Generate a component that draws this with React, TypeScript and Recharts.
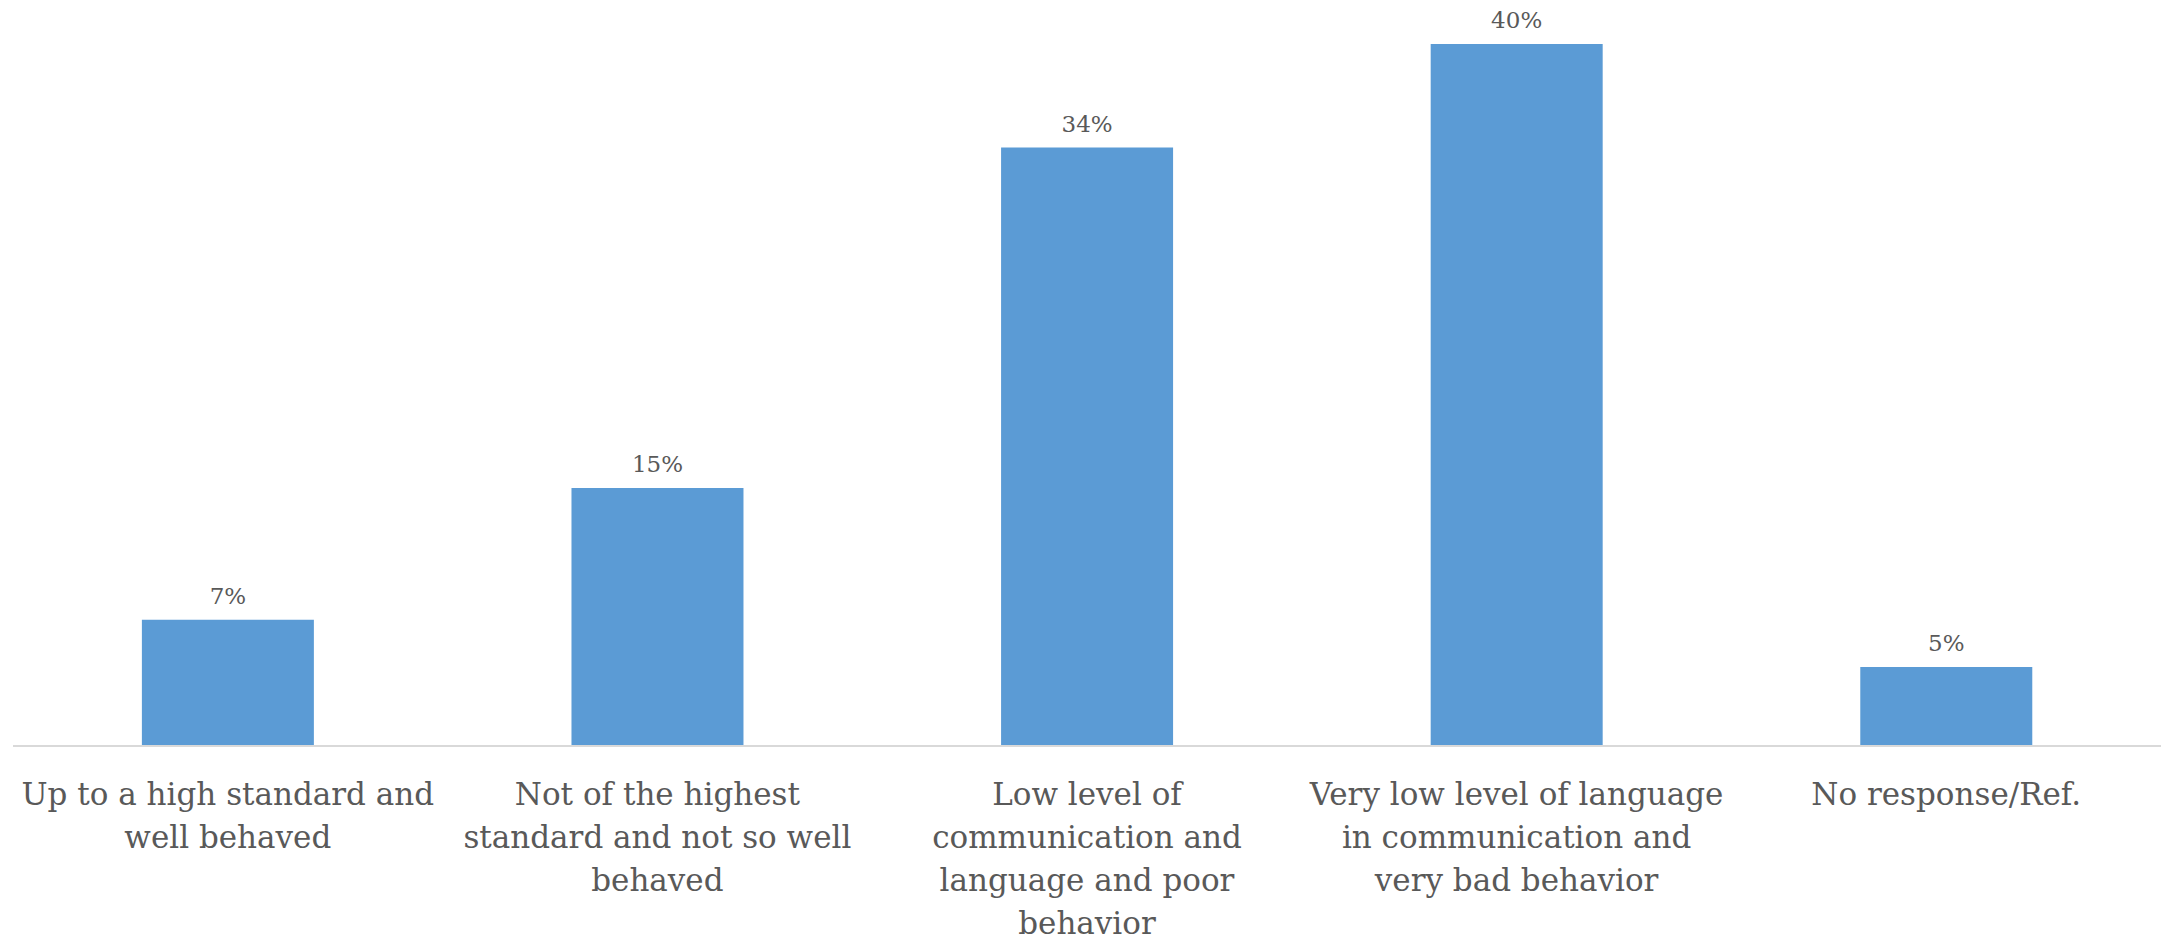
import { BarChart, Bar, XAxis, YAxis, LabelList } from "recharts";

const categories = [
  "Up to a high standard and\nwell behaved",
  "Not of the highest\nstandard and not so well\nbehaved",
  "Low level of\ncommunication and\nlanguage and poor\nbehavior",
  "Very low level of language\nin communication and\nvery bad behavior",
  "No response/Ref.",
];
const shares = [7.2, 14.7, 34.1, 40.0, 4.5];

const data = categories.map((name, i) => ({ name, value: shares[i] }));

const FONT = "'DejaVu Serif', serif";
const TEXT = "#595959";

const CategoryTick = (props: any) => {
  const { x, y, payload } = props;
  const lines = String(payload.value).split("\n");
  return (
    <text x={x} y={y} textAnchor="middle" fill={TEXT} fontFamily={FONT} fontSize={31}>
      {lines.map((line, i) => (
        <tspan key={i} x={x} y={y + 59 + i * 43}>
          {line}
        </tspan>
      ))}
    </text>
  );
};

export default function App() {
  return (
    <div style={{ position: "absolute", left: 0, top: 0, background: "#fff" }}>
      <BarChart
        width={2163}
        height={941}
        data={data}
        margin={{ top: 44, right: 2, bottom: 0, left: 13 }}
        barCategoryGap="30%"
      >
        <XAxis
          dataKey="name"
          interval={0}
          height={195}
          tickSize={0}
          tickMargin={0}
          tickLine={false}
          axisLine={{ stroke: "#d9d9d9", strokeWidth: 2 }}
          tick={<CategoryTick />}
        />
        <YAxis hide domain={[0, 40]} />
        <Bar dataKey="value" fill="#5b9bd5" isAnimationActive={false}>
          <LabelList
            dataKey="value"
            position="top"
            offset={16}
            fill={TEXT}
            fontFamily={FONT}
            fontSize={23}
            formatter={(v: any) => `${Math.round(Number(v))}%`}
          />
        </Bar>
      </BarChart>
    </div>
  );
}
